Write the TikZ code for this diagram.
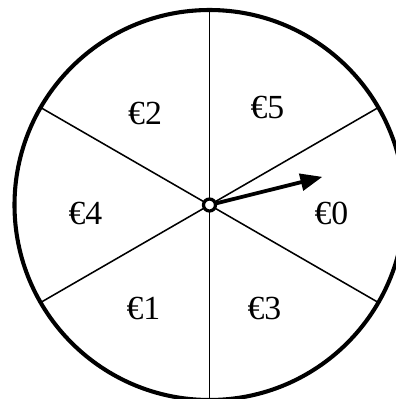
\documentclass[tikz,border=0pt]{standalone}
\usepackage{fontspec}
\setmainfont{Liberation Serif}
\usetikzlibrary{arrows.meta}

\begin{document}
\begin{tikzpicture}[font=\fontsize{24}{28}\selectfont]
  \useasboundingbox (-5.2375,-4.85) rectangle (4.6625,5.125);
  \coordinate (c) at (0,0);
  \foreach \a in {30,90,...,330} \draw[line width=1.1pt] (c) -- ++(\a:4.875) coordinate (rim\a);
  \draw[line width=2.9pt] (c) circle (4.875);
  \coordinate (tip) at (14:2.91);
  \draw[line width=2.7pt,-{Triangle[length=0.55cm,width=0.42cm]}] (c) -- (tip);
  \filldraw[fill=white,line width=2.3pt] (c) circle (0.15);
  \node (p2) at (-1.61,2.3) {€2};
  \node (p5) at (1.45,2.45) {€5};
  \node (p4) at (-3.1,-0.2) {€4};
  \node (p0) at (3.05,-0.2) {€0};
  \node (p1) at (-1.65,-2.575) {€1};
  \node (p3) at (1.375,-2.575) {€3};
\end{tikzpicture}
\end{document}
